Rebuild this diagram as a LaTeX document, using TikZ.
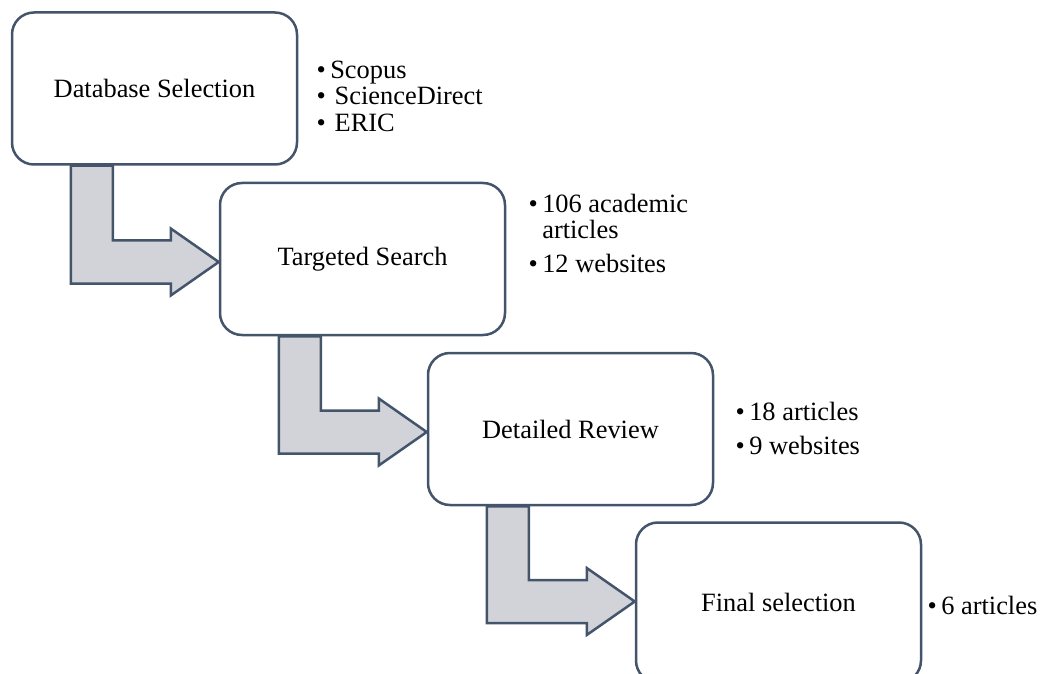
\documentclass[tikz,border=0pt]{standalone}
\usepackage{fontspec}
\setmainfont{Liberation Serif}
\usetikzlibrary{positioning,calc,backgrounds}
\definecolor{slate}{HTML}{44546A}
\definecolor{arrowgray}{HTML}{D1D3D8}

\tikzset{
  stagebox/.style={draw=slate, line width=1.25pt, fill=white, rounded corners=11pt,
    minimum width=142.5pt, minimum height=76pt, font=\fontsize{13.2}{13.5}\selectfont},
  notes/.style={anchor=west, inner sep=0pt, align=left, font=\fontsize{13.2}{13.4}\selectfont},
  elbow/.style={draw=slate, line width=1.25pt, fill=arrowgray, line join=miter}
}

\begin{document}
\begin{tikzpicture}[x=0.5pt, y=-0.5pt]
\useasboundingbox (0,0) rectangle (1040,674);

% stages
\node[stagebox] (select) at (154.5,88.5) {Database Selection};
\node[stagebox] (search) at (362.5,259) {Targeted Search};
\node[stagebox] (review) at (570.5,429) {Detailed Review};
\node[stagebox, minimum height=80pt] (final) at (778.5,602.5) {Final selection};

% notes beside each stage
\node[notes, right=9pt of select, yshift=-5.5pt] (selectnotes) {%
  \begin{tabular}{@{}l@{\,}l@{}}
  \textbullet & Scopus\\
  \textbullet & \,ScienceDirect\\
  \textbullet & \,ERIC
  \end{tabular}};
\node[notes, right=11pt of search, yshift=11pt] (searchnotes) {%
  \begin{tabular}{@{}l@{\,}l@{}}
  \textbullet & 106 academic\\
              & articles\\[3.5pt]
  \textbullet & 12 websites
  \end{tabular}};
\node[notes, right=10.5pt of review, yshift=-1.5pt] (reviewnotes) {%
  \begin{tabular}{@{}l@{\,}l@{}}
  \textbullet & 18 articles\\[3.5pt]
  \textbullet & 9 websites
  \end{tabular}};
\node[notes, right=2.5pt of final, yshift=-3.5pt] (finalnotes) {%
  \begin{tabular}{@{}l@{\,}l@{}}
  \textbullet & 6 articles
  \end{tabular}};

% bent arrows between stages
\begin{scope}[on background layer]
\foreach \a/\b in {select/search, search/review}{
  \draw[elbow] ($(\a.south west)+(30pt,0)$) -- ($(\a.south west)+(51pt,0)$)
    |- ($(\b.west)+(-24pt,9.25pt)$) -- ($(\b.west)+(-24pt,15.25pt)$)
    -- ($(\b.west)+(0,-1.5pt)$) -- ($(\b.west)+(-24pt,-18.25pt)$)
    -- ($(\b.west)+(-24pt,-12.25pt)$) -| cycle;
}
\coordinate (finaltip) at ($(final.west)+(0,0.5pt)$);
\draw[elbow] ($(review.south west)+(30pt,0)$) -- ($(review.south west)+(51pt,0)$)
  |- ($(finaltip)+(-24pt,10.75pt)$) -- ($(finaltip)+(-24pt,16.75pt)$)
  -- (finaltip) -- ($(finaltip)+(-24pt,-16.75pt)$)
  -- ($(finaltip)+(-24pt,-10.75pt)$) -| cycle;
\end{scope}
\end{tikzpicture}
\end{document}
